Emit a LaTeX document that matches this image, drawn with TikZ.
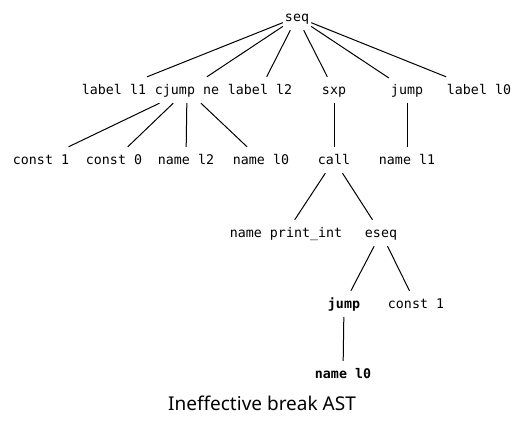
\documentclass[tikz,border=0pt]{standalone}
\usepackage{fontspec}
\newfontfamily\monofont{DejaVu Sans Mono}
\newfontfamily\capfont{Noto Sans}
\tikzset{
  ast/.style={draw=none, rectangle, inner xsep=2bp, inner ysep=6bp,
    text height=11bp, text depth=3bp, anchor=base,
    font=\monofont\fontsize{13.3bp}{16bp}\selectfont},
  astb/.style={ast, font=\monofont\bfseries\fontsize{13.3bp}{16bp}\selectfont},
  edge/.style={draw=black, line width=1bp}
}
\begin{document}
\begin{tikzpicture}[x=1bp,y=-1bp]
\useasboundingbox (0,0) rectangle (523,425);
% row 0
\node[ast] (seq) at (297,21) {seq};
% row 1
\node[ast] (ll1) at (114,94) {label l1};
\node[ast] (cj) at (187,94) {cjump ne};
\node[ast] (ll2) at (260,94) {label l2};
\node[ast] (sxp) at (334,94) {sxp};
\node[ast] (jmp) at (407,94) {jump};
\node[ast] (ll0) at (479,94) {label l0};
% row 2
\node[ast] (c1) at (41,164) {const 1};
\node[ast] (c0) at (114,164) {const 0};
\node[ast] (nl2) at (186,164) {name l2};
\node[ast] (nl0) at (261,164) {name l0};
\node[ast] (call) at (334,164) {call};
\node[ast] (nl1) at (407,164) {name l1};
% row 3
\node[ast] (npi) at (286,237) {name print\_int};
\node[ast] (eseq) at (381,237) {eseq};
% row 4
\node[astb] (bj) at (344,308) {jump};
\node[ast] (c1b) at (416,308) {const 1};
% row 5
\node[astb] (bnl0) at (343,378) {name l0};
% caption
\node[anchor=base, inner sep=0pt, font=\capfont\fontsize{19bp}{22bp}\selectfont] (cap) at (262,410) {Ineffective break AST};
% edges
\foreach \t in {ll1,cj,ll2,sxp,jmp,ll0} \draw[edge] (seq) -- (\t);
\foreach \t in {c1,c0,nl2,nl0} \draw[edge] (cj) -- (\t);
\draw[edge] (sxp) -- (call);
\draw[edge] (jmp) -- (nl1);
\draw[edge] (call) -- (npi);
\draw[edge] (call) -- (eseq);
\draw[edge] (eseq) -- (bj);
\draw[edge] (eseq) -- (c1b);
\draw[edge] (bj) -- (bnl0);
\end{tikzpicture}
\end{document}
